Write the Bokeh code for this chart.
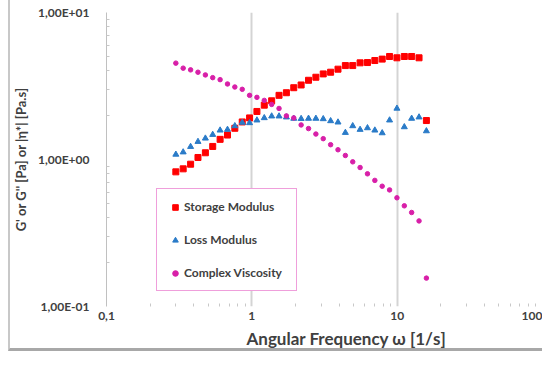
from bokeh.plotting import figure
from bokeh.models import ColumnDataSource, FixedTicker, Legend, LegendItem, Title
from bokeh.embed import file_html
from bokeh.resources import INLINE

# ---- data ----
omega = [0.300, 0.337, 0.379, 0.426, 0.479, 0.538, 0.605, 0.680, 0.764, 0.859,
         0.965, 1.084, 1.218, 1.369, 1.539, 1.729, 1.943, 2.184, 2.455, 2.759,
         3.100, 3.484, 3.916, 4.401, 4.946, 5.558, 6.247, 7.021, 7.889, 8.867,
         9.963, 11.20, 12.58, 14.14, 15.89]
storage_modulus = [0.824, 0.864, 0.929, 1.032, 1.111, 1.227, 1.371, 1.467, 1.631, 1.801,
                   1.918, 2.122, 2.343, 2.508, 2.732, 2.846, 3.079, 3.213, 3.459, 3.627,
                   3.821, 3.925, 4.116, 4.355, 4.355, 4.545, 4.567, 4.713, 4.818, 5.020,
                   4.918, 5.020, 5.020, 4.918, 1.841]
loss_modulus = [1.082, 1.122, 1.222, 1.322, 1.393, 1.476, 1.580, 1.597, 1.691, 1.784,
                1.773, 1.850, 1.918, 1.970, 1.970, 1.940, 1.900, 1.894, 1.900, 1.900,
                1.888, 1.829, 1.792, 1.523, 1.691, 1.597, 1.638, 1.580, 1.514, 1.850,
                2.225, 1.664, 1.900, 1.940, 1.562]
complex_viscosity = [4.524, 4.181, 4.071, 3.925, 3.761, 3.604, 3.493, 3.264, 3.113, 3.002,
                     2.732, 2.647, 2.524, 2.370, 2.225, 1.980, 1.918, 1.718, 1.623, 1.490,
                     1.386, 1.261, 1.165, 1.065, 0.964, 0.882, 0.799, 0.721, 0.658, 0.621,
                     0.549, 0.484, 0.436, 0.382, 0.156]

series_names = ["Storage Modulus", "Loss Modulus", "Complex Viscosity"]

x_ticks = [0.1, 1, 10, 100]
x_tick_labels = ["0,1", "1", "10", "100"]
y_ticks = [0.1, 1, 10]
y_tick_labels = ["1,00E-01", "1,00E+00", "1,00E+01"]
x_minor = [k * 10.0 ** e for e in (-1, 0, 1) for k in range(2, 10)]
y_minor = [k * 10.0 ** e for e in (-1, 0) for k in range(2, 10)]

x_title = "Angular Frequency \u03c9 [1/s]"
y_title = "G' or G'' [Pa] or |\u03b7*| [Pa.s]"

FONT = "Lato"
TXT = "#404040"

src = ColumnDataSource(dict(w=omega, g1=storage_modulus, g2=loss_modulus, eta=complex_viscosity))

p = figure(width=534, height=351, x_axis_type="log", y_axis_type="log",
           x_range=(0.1, 100), y_range=(0.1, 10),
           output_backend="svg", toolbar_location=None,
           min_border_left=91, min_border_right=2, min_border_top=12, min_border_bottom=42)
p.styles = {"margin-left": "8px", "border-left": "2px solid #c8c8c8",
            "border-bottom": "3px solid #a8a8a8"}
p.outline_line_color = None
p.background_fill_color = "white"
p.border_fill_color = "white"

# axes
xa = p.xaxis[0]
xa.ticker = FixedTicker(ticks=x_ticks, minor_ticks=x_minor)
xa.major_label_overrides = {t: l for t, l in zip(x_ticks, x_tick_labels)}
xa.axis_line_color = None
xa.major_tick_line_color = None
xa.major_tick_in = 0
xa.major_tick_out = 0
xa.minor_tick_line_color = "#c8c8c8"
xa.minor_tick_in = 3
xa.minor_tick_out = 0
xa.major_label_standoff = 5
xa.major_label_text_font = FONT
xa.major_label_text_font_style = "bold"
xa.major_label_text_font_size = "12px"
xa.major_label_text_color = TXT

ya = p.yaxis[0]
ya.ticker = FixedTicker(ticks=y_ticks, minor_ticks=y_minor)
ya.major_label_overrides = {t: l for t, l in zip(y_ticks, y_tick_labels)}
ya.axis_line_color = "#c0c0c0"
ya.major_tick_line_color = None
ya.major_tick_in = 0
ya.major_tick_out = 0
ya.minor_tick_line_color = "#c8c8c8"
ya.minor_tick_in = 3
ya.minor_tick_out = 0
ya.major_label_standoff = 17
ya.major_label_text_font = FONT
ya.major_label_text_font_style = "bold"
ya.major_label_text_font_size = "12px"
ya.major_label_text_color = TXT
ya.axis_label = y_title
ya.axis_label_standoff = 6
ya.axis_label_text_font = FONT
ya.axis_label_text_font_style = "bold"
ya.axis_label_text_font_size = "13px"
ya.axis_label_text_color = TXT

p.xgrid.grid_line_color = "#d4d4d4"
p.xgrid.grid_line_width = 2
p.ygrid.grid_line_color = None

# x axis title, shifted right as in the original
p.add_layout(Title(text=x_title, align="left", offset=140, standoff=6,
                   text_font=FONT, text_font_style="bold", text_font_size="17px",
                   text_color=TXT), "below")

# series
r1 = p.scatter("w", "g1", source=src, marker="square", size=6, color="#ff0000")
r2 = p.scatter("w", "g2", source=src, marker="triangle", size=6, color="#2a7bc8")
r3 = p.scatter("w", "eta", source=src, marker="circle", size=4.5, color="#d81fa8")

legend = Legend(items=[LegendItem(label=n, renderers=[r]) for n, r in zip(series_names, [r1, r2, r3])],
                location=(50, 15), orientation="vertical",
                padding=10, spacing=18, margin=0,
                glyph_width=16, glyph_height=14, label_height=14, label_width=102, label_standoff=1,
                label_text_font=FONT, label_text_font_style="bold", label_text_font_size="12px",
                label_text_color=TXT,
                border_line_color="#e040b8", border_line_width=1.5,
                background_fill_color="white", background_fill_alpha=1.0)
p.add_layout(legend, "center")

open("out.html", "w").write(file_html(p, INLINE))
